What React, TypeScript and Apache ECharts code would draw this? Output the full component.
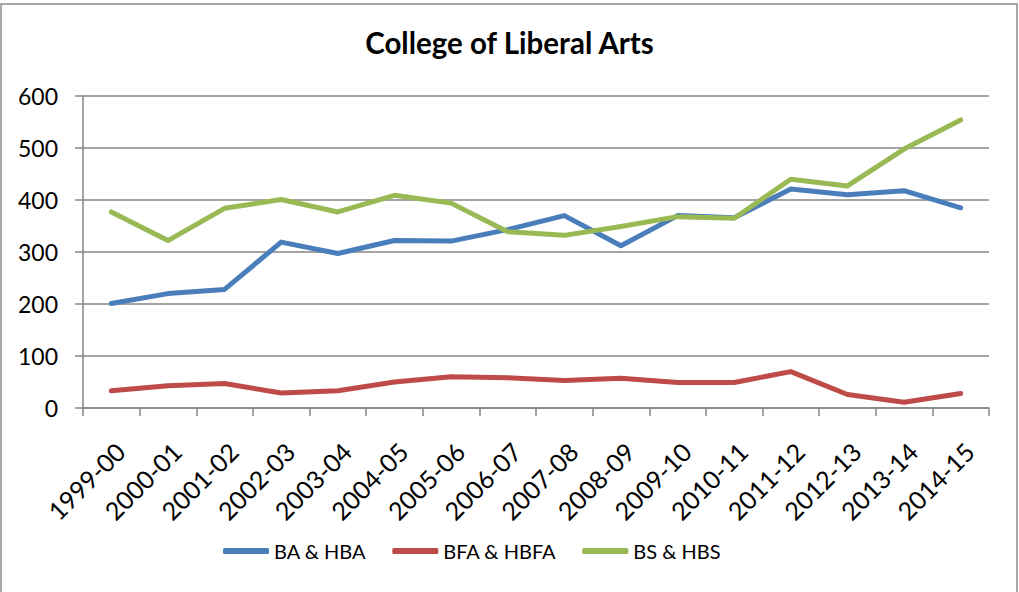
import React, { useEffect, useRef } from "react";
import * as echarts from "echarts";

const categories = [
  "1999-00", "2000-01", "2001-02", "2002-03", "2003-04", "2004-05", "2005-06", "2006-07",
  "2007-08", "2008-09", "2009-10", "2010-11", "2011-12", "2012-13", "2013-14", "2014-15",
];
const baHba = [201, 220, 228, 319, 297, 322, 321, 343, 370, 312, 370, 366, 421, 410, 418, 385];
const bfaHbfa = [33, 43, 47, 29, 33, 50, 60, 58, 53, 57, 49, 49, 70, 26, 11, 28];
const bsHbs = [377, 322, 384, 401, 377, 409, 394, 339, 332, 349, 368, 365, 440, 427, 498, 554];
const yTicks = { min: 0, max: 600, interval: 100 };

const FONT = "Lato";

export default function App() {
  const ref = useRef<HTMLDivElement>(null);
  useEffect(() => {
    if (!ref.current) return;
    const chart = echarts.init(ref.current, undefined, { renderer: "svg" });
    const mk = (name: string, data: number[], color: string) => ({
      name,
      type: "line",
      data,
      showSymbol: false,
      symbol: "none",
      lineStyle: { width: 5, color, cap: "round", join: "round" },
      itemStyle: { color },
    });
    chart.setOption({
      animation: false,
      backgroundColor: "#ffffff",
      title: {
        text: "College of Liberal Arts",
        left: "center",
        top: 22,
        textStyle: { fontFamily: FONT, fontSize: 29.5, fontWeight: "bold", color: "#000" },
      },
      legend: {
        top: 536,
        left: 218,
        itemWidth: 46,
        itemHeight: 6,
        itemGap: 26,
        icon: "roundRect",
        textStyle: { fontFamily: FONT, fontSize: 20, color: "#000" },
        data: ["BA & HBA", "BFA & HBFA", "BS & HBS"],
      },
      graphic: [
        {
          type: "rect",
          shape: { x: 1, y: 4, width: 1016, height: 620 },
          style: { fill: "none", stroke: "#8c8c8c", lineWidth: 1.5 },
          silent: true,
        },
      ],
      grid: { left: 83, right: 30, top: 96, bottom: 184, containLabel: false },
      xAxis: {
        type: "category",
        data: categories,
        boundaryGap: true,
        axisLine: { lineStyle: { color: "#868686", width: 1.5 } },
        axisTick: { show: true, length: 8, alignWithLabel: false, lineStyle: { color: "#868686", width: 1.5 } },
        axisLabel: {
          rotate: 45,
          margin: 30,
          align: "right",
          verticalAlign: "top",
          fontFamily: FONT,
          fontSize: 25,
          color: "#000",
          interval: 0,
        },
        splitLine: { show: false },
      },
      yAxis: {
        type: "value",
        min: yTicks.min,
        max: yTicks.max,
        interval: yTicks.interval,
        axisLine: { show: true, lineStyle: { color: "#868686", width: 1.5 } },
        axisTick: { show: true, length: 8, lineStyle: { color: "#868686", width: 1.5 } },
        axisLabel: { margin: 25, fontFamily: FONT, fontSize: 23, color: "#000" },
        splitLine: { lineStyle: { color: "#868686", width: 1.5 } },
      },
      series: [
        mk("BA & HBA", baHba, "#4a7ebb"),
        mk("BFA & HBFA", bfaHbfa, "#be4b48"),
        mk("BS & HBS", bsHbs, "#98b954"),
      ],
    });
    return () => chart.dispose();
  }, []);
  return (
    <div
      ref={ref}
      style={{ position: "fixed", left: 0, top: 0, width: 1019, height: 592, background: "#fff" }}
    />
  );
}
